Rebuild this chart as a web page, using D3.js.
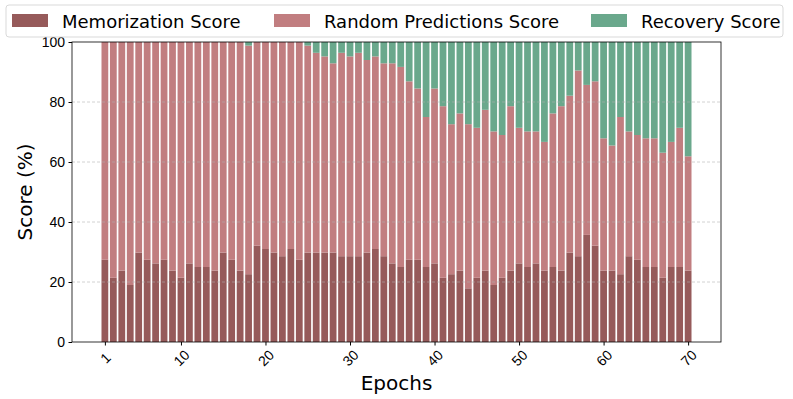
<!DOCTYPE html>
<html><head><meta charset="utf-8">
<script src="https://cdn.jsdelivr.net/npm/d3@7"></script>
<style>body{margin:0;background:#fff}svg{display:block;font-family:"DejaVu Sans",sans-serif}</style>
</head><body><svg id="c" width="793" height="399"></svg>
<script>
const epochs = d3.range(1, 71);
const memorization = [27.4,21.4,23.8,19.0,29.8,27.4,26.2,27.4,23.8,21.4,26.2,25.0,25.0,23.8,29.8,27.4,23.8,22.6,32.1,31.0,
  29.8,28.6,31.0,27.4,29.8,29.8,29.8,29.8,28.6,28.6,28.6,29.8,31.0,28.6,26.2,25.0,27.4,27.4,25.0,26.2,
  21.4,22.6,23.8,17.9,21.4,23.8,19.0,21.4,23.8,26.2,25.0,26.2,23.8,25.0,23.8,29.8,28.6,35.7,32.1,23.8,
  23.8,22.6,28.6,27.4,25.0,25.0,21.4,25.0,25.0,23.8];
const recovery = [0,0,0,0,0,0,0,0,0,0,0,0,0,0,0,0,0,1.2,0,0,
  0,0,0,0,1.2,3.6,4.8,7.1,3.6,4.8,3.6,6.0,4.8,7.1,7.1,8.3,13.1,15.5,25.0,15.5,
  21.4,27.4,23.8,27.4,28.6,22.6,29.8,31.0,21.4,28.6,29.8,29.8,33.3,23.8,21.4,17.9,9.5,14.3,13.1,32.1,
  34.5,25.0,29.8,31.0,32.1,32.1,36.9,33.3,28.6,38.1];
const randomPred = memorization.map((m, i) => 100 - m - recovery[i]);
const seriesNames = ["Memorization Score", "Random Predictions Score", "Recovery Score"];
const colors = ["#965a5a", "#c17e80", "#6aa88c"];
const xTicks = [1,10,20,30,40,50,60,70];
const yTicks = [0,20,40,60,80,100];

const svg = d3.select("#c");
const L = 72, R = 721, T = 42, B = 342;
const x = d3.scaleLinear().domain([-2.89, 73.89]).range([L, R]);
const y = d3.scaleLinear().domain([0, 100]).range([B, T]);
const bw = x(0.8) - x(0);

const rows = epochs.map((e, i) => ({epoch: e, m: memorization[i], r: randomPred[i], c: recovery[i]}));
const stack = d3.stack().keys(["m", "r", "c"])(rows);

stack.forEach((s, k) => {
  svg.append("g").selectAll("rect").data(s).join("rect")
    .attr("x", d => x(d.data.epoch) - bw / 2)
    .attr("width", bw)
    .attr("y", d => y(d[1]))
    .attr("height", d => y(d[0]) - y(d[1]))
    .attr("fill", colors[k]);
});

// grid
svg.append("g").selectAll("line").data(yTicks.filter(t => t > 0 && t < 100)).join("line")
  .attr("x1", L).attr("x2", R).attr("y1", d => y(d)).attr("y2", d => y(d))
  .attr("stroke", "#b0b0b0").attr("stroke-width", 0.8).attr("stroke-dasharray", "3,2").attr("opacity", 0.7);

// frame
svg.append("rect").attr("x", L).attr("y", T).attr("width", R - L).attr("height", B - T)
  .attr("fill", "none").attr("stroke", "#000").attr("stroke-width", 0.8);

// axes
const xAxis = svg.append("g").attr("transform", `translate(0,${B})`)
  .call(d3.axisBottom(x).tickValues(xTicks).tickSize(3.5).tickPadding(3).tickFormat(d3.format("d")));
xAxis.select(".domain").remove();
xAxis.selectAll("text").attr("font-size", 14).attr("fill", "#000")
  .attr("text-anchor", "middle").attr("dy", null).attr("y", 0)
  .attr("transform", d => `translate(0,${16}) rotate(-45)`)
  .attr("dominant-baseline", "central");
xAxis.selectAll("line").attr("stroke", "#000");

const yAxis = svg.append("g").attr("transform", `translate(${L},0)`)
  .call(d3.axisLeft(y).tickValues(yTicks).tickSize(3.5).tickPadding(3.5));
yAxis.select(".domain").remove();
yAxis.selectAll("text").attr("font-size", 14).attr("fill", "#000");
yAxis.selectAll("line").attr("stroke", "#000");

svg.append("text").attr("x", (L + R) / 2).attr("y", 390).attr("text-anchor", "middle")
  .attr("font-size", 20).text("Epochs");
svg.append("text").attr("transform", `translate(32,${(T + B) / 2}) rotate(-90)`).attr("text-anchor", "middle")
  .attr("font-size", 20).text("Score (%)");

// legend
const lg = svg.append("g");
lg.append("rect").attr("x", 6).attr("y", 5).attr("width", 777).attr("height", 32).attr("rx", 3)
  .attr("fill", "#fff").attr("fill-opacity", 0.8).attr("stroke", "#d9d9d9").attr("stroke-width", 1);
const legX = [12, 274, 591];
seriesNames.forEach((n, i) => {
  lg.append("rect").attr("x", legX[i]).attr("y", 14).attr("width", 36).attr("height", 13).attr("fill", colors[i]);
  lg.append("text").attr("x", legX[i] + 50).attr("y", 21).attr("dominant-baseline", "central")
    .attr("font-size", 18).text(n);
});
</script></body></html>
